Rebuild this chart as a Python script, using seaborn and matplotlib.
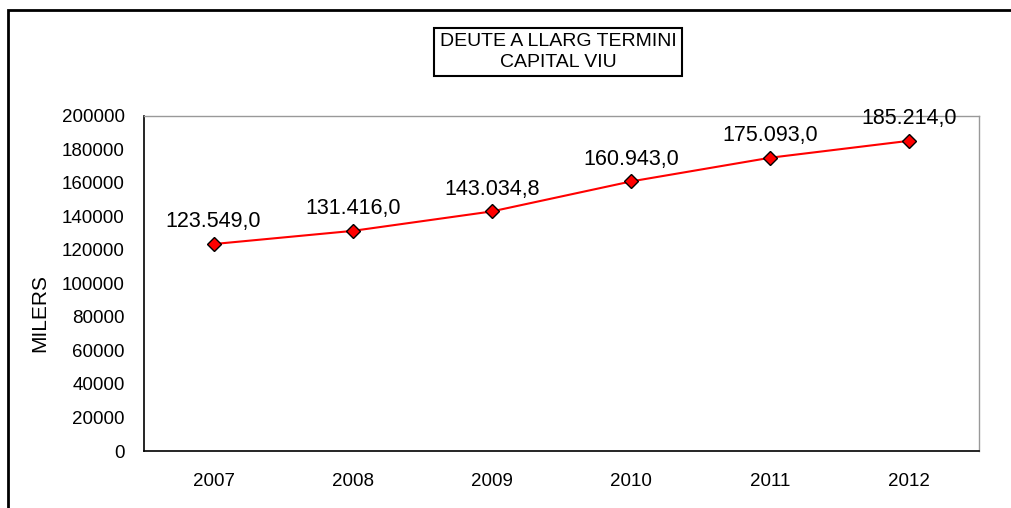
import numpy as np
import pandas as pd
import matplotlib
matplotlib.use('Agg')
import matplotlib.pyplot as plt
import seaborn as sns
from matplotlib.patches import Rectangle

years = ['2007', '2008', '2009', '2010', '2011', '2012']
capital = [123549.0, 131416.0, 143034.8, 160943.0, 175093.0, 185214.0]
labels = ['123.549,0', '131.416,0', '143.034,8', '160.943,0', '175.093,0', '185.214,0']
yticks = [0, 20000, 40000, 60000, 80000, 100000, 120000, 140000, 160000, 180000, 200000]

sns.set_style('white')
plt.rcParams['font.family'] = ['Liberation Sans', 'DejaVu Sans']
plt.rcParams['text.color'] = 'black'
plt.rcParams['xtick.labelcolor'] = 'black'
plt.rcParams['ytick.labelcolor'] = 'black'

df = pd.DataFrame({'pos': np.arange(len(years)), 'capital': capital})

fig = plt.figure(figsize=(10.11, 5.08), dpi=100)
ax = fig.add_axes([144 / 1011, 1 - 451 / 508, (979 - 144) / 1011, (451 - 116) / 508])

sns.lineplot(data=df, x='pos', y='capital', ax=ax, color='red', linewidth=1.5,
             marker='D', markersize=7, markerfacecolor='red', markeredgecolor='black',
             markeredgewidth=1.0)

for x, y, t in zip(df['pos'], df['capital'], labels):
    ax.annotate(t, (x, y), xytext=(0, 12), textcoords='offset points',
                ha='center', va='baseline', fontsize=15.5)

ax.set_xlim(-0.5, len(years) - 0.5)
ax.set_ylim(0, 200000)
ax.set_xticks(df['pos'])
ax.set_xticklabels(years, fontsize=13.5)
ax.set_xticks(np.arange(-0.5, len(years)), minor=True)
ax.set_yticks(yticks)
ax.set_yticklabels([str(v) for v in yticks], fontsize=13.5)
ax.tick_params(axis='x', which='major', length=0, pad=16)
ax.tick_params(axis='x', which='minor', direction='in', length=6, color='#999999', width=0.8)
ax.tick_params(axis='y', direction='in', length=6, color='#999999', width=0.8, pad=14)
ax.set_xlabel('')
ax.set_ylabel('')

for side in ['left', 'bottom']:
    ax.spines[side].set_color('black')
    ax.spines[side].set_linewidth(1.2)
for side in ['top', 'right']:
    ax.spines[side].set_color('#999999')
    ax.spines[side].set_linewidth(1.0)

fig.text(40 / 1011, 1 - 313 / 508, 'MILERS', rotation=90, ha='center', va='center', fontsize=15)

fig.text(558 / 1011, 1 - 52 / 508, 'DEUTE A LLARG TERMINI\nCAPITAL VIU', ha='center', va='center',
         fontsize=14, linespacing=1.3,
         bbox=dict(boxstyle='square,pad=0.28', facecolor='white', edgecolor='black', linewidth=1.5))

fig.patches.append(Rectangle((8 / 1011, -0.1), 1.2, 1 - 10 / 508 + 0.1, transform=fig.transFigure,
                             fill=False, edgecolor='black', linewidth=2))

fig.savefig('out.png', dpi=100)
